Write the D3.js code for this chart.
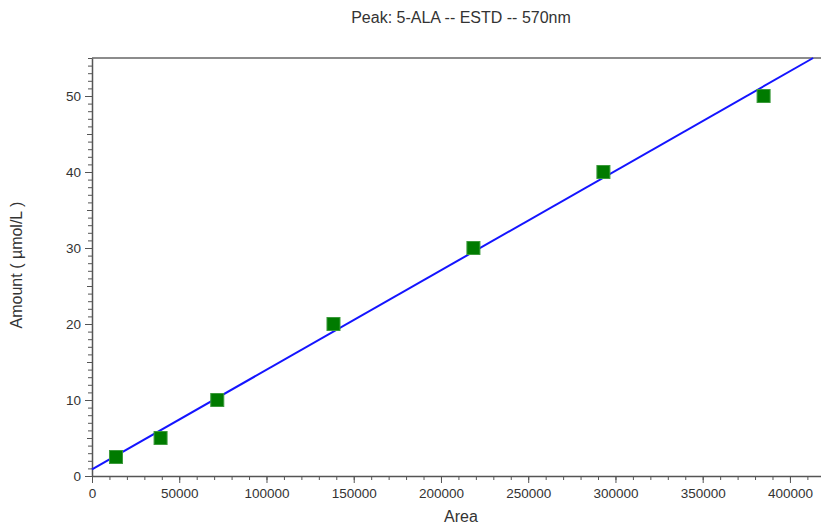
<!DOCTYPE html>
<html>
<head>
<meta charset="utf-8">
<script src="https://cdn.jsdelivr.net/npm/d3@7"></script>
<style>
    body { margin: 0; background: #fff; }
    text { font-family: "Liberation Sans", Arial, sans-serif; fill: #333; }
</style>
</head>
<body>
<script>
// calibration standards
const areas = [13750, 39300, 71800, 138400, 218600, 293100, 384900];
const amounts = [2.5, 5, 10, 20, 30, 40, 50];

// fitted line, two end points
const fitAreas = [0, 413300];
const fitAmounts = [0.88, 55];

const xTicks = [0, 50000, 100000, 150000, 200000, 250000, 300000, 350000, 400000];
const yTicks = [0, 10, 20, 30, 40, 50];

const title = 'Peak: 5-ALA -- ESTD -- 570nm';

function draw() {
    const W = 821, H = 525;
    const margin = { top: 58, right: 0, bottom: 49, left: 92 };
    const width = W - margin.left - margin.right;
    const height = H - margin.top - margin.bottom;

    const x = d3.scaleLinear().domain([0, 417800]).range([0, width]);
    const y = d3.scaleLinear().domain([0, 55]).range([height, 0]);

    const svg = d3.select('body')
        .append('svg')
        .attr('width', W)
        .attr('height', H);

    svg.append('text')
        .attr('x', 461)
        .attr('y', 23)
        .attr('text-anchor', 'middle')
        .attr('font-size', 16)
        .text(title);

    const main = svg.append('g')
        .attr('transform', 'translate(' + margin.left + ',' + margin.top + ')');

    // top frame line
    main.append('line')
        .attr('x1', 0).attr('x2', width)
        .attr('y1', 0).attr('y2', 0)
        .attr('stroke', '#666')
        .attr('stroke-width', 1.5);

    // minor ticks
    const xMinor = d3.range(0, 417800, 10000);
    main.append('g')
        .attr('transform', 'translate(0,' + height + ')')
        .call(d3.axisBottom(x).tickValues(xMinor).tickSize(4).tickFormat(''))
        .call(g => g.select('.domain').remove());

    const yMinor = d3.range(0, 55.01, 1);
    main.append('g')
        .call(d3.axisLeft(y).tickValues(yMinor).tickSize(4).tickFormat(''))
        .call(g => g.select('.domain').remove());
    main.append('g')
        .call(d3.axisLeft(y).tickValues(d3.range(5, 55, 10)).tickSize(5).tickFormat(''))
        .call(g => g.select('.domain').remove());

    const xAxis = main.append('g')
        .attr('transform', 'translate(0,' + height + ')')
        .call(d3.axisBottom(x).tickValues(xTicks).tickSize(7).tickSizeOuter(0).tickPadding(5).tickFormat(d3.format('d')));

    const yAxis = main.append('g')
        .call(d3.axisLeft(y).tickValues(yTicks).tickSize(7).tickSizeOuter(0).tickPadding(4).tickFormat(d3.format('d')));

    [xAxis, yAxis].forEach(g => {
        g.selectAll('text').attr('font-size', 13.5).attr('font-family', '"Liberation Sans", Arial, sans-serif').attr('fill', '#333');
    });
    main.selectAll('.tick line').attr('stroke', '#555');
    main.selectAll('.domain').attr('stroke', '#555').attr('stroke-width', 1.5);

    // axis titles
    svg.append('text')
        .attr('x', 461)
        .attr('y', 522)
        .attr('text-anchor', 'middle')
        .attr('font-size', 16)
        .text('Area');

    svg.append('text')
        .attr('transform', 'translate(22,265) rotate(-90)')
        .attr('text-anchor', 'middle')
        .attr('font-size', 16)
        .text('Amount ( µmol/L )');

    // fit line
    const fit = fitAreas.map((a, i) => [a, fitAmounts[i]]);
    main.append('path')
        .datum(fit)
        .attr('d', d3.line().x(d => x(d[0])).y(d => y(d[1])))
        .attr('fill', 'none')
        .attr('stroke', '#1414ff')
        .attr('stroke-width', 2);

    // standard points
    const pts = areas.map((a, i) => [a, amounts[i]]);
    const s = 13;
    main.append('g')
        .selectAll('rect')
        .data(pts)
        .enter()
        .append('rect')
        .attr('x', d => x(d[0]) - s / 2)
        .attr('y', d => y(d[1]) - s / 2)
        .attr('width', s)
        .attr('height', s)
        .attr('fill', '#007b00')
        .attr('stroke', '#3c9a3c')
        .attr('stroke-width', 1);
}

document.addEventListener('DOMContentLoaded', () => draw());
</script>
</body>
</html>
